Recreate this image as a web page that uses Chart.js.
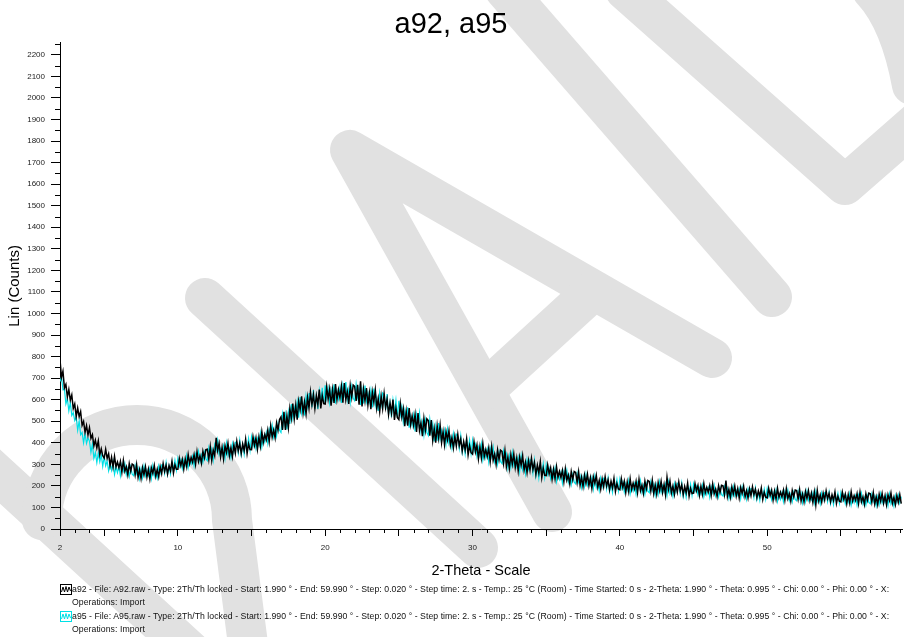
<!DOCTYPE html>
<html>
<head>
<meta charset="utf-8">
<title>a92, a95</title>
<script src="https://cdn.jsdelivr.net/npm/chart.js@4.4.1/dist/chart.umd.min.js"></script>
<style>
  html, body { margin: 0; padding: 0; background: #fff; overflow: hidden; }
  #wrap { position: relative; width: 904px; height: 637px; overflow: hidden; }
  #c { position: absolute; left: 0; top: 0; }
  .row { position: absolute; left: 72px; font: 8.7px "Liberation Sans", Arial, sans-serif; letter-spacing: 0.05px; color: #111; white-space: nowrap; line-height: 10px; }
  .icon { position: absolute; left: 60px; width: 12px; height: 11px; }
</style>
</head>
<body>
<div id="wrap">
  <canvas id="c" width="904" height="637"></canvas>
</div>
<script>
// Scan grid: readings every 0.1 degree 2-Theta starting at 2.0
const SCAN_START = 2.0;
const SCAN_STEP = 0.1;

// a92 counts (Lin), 2.0 .. 59.1 deg
const a92Counts = [
  785,704,732,655,671,613,647,598,622,559,
  580,522,561,521,545,481,499,449,480,436,
  470,421,438,386,412,376,409,344,372,340,
  329,370,328,349,295,333,288,337,288,311,
  284,314,264,318,268,289,251,303,268,301,
  296,252,299,240,275,234,284,251,289,241,
  277,232,284,258,295,245,277,242,289,257,
  304,267,296,256,294,270,314,260,298,277,
  277,327,294,323,278,325,289,345,303,332,
  310,345,300,359,313,339,305,361,330,368,
  370,323,382,318,366,340,423,364,397,335,
  378,325,386,355,398,340,377,335,390,352,
  407,363,397,350,394,364,416,351,395,369,
  368,428,388,423,370,426,384,451,402,438,
  414,458,406,478,426,459,423,492,459,508,
  520,460,544,460,524,470,559,513,582,511,
  574,507,593,554,616,538,589,535,611,561,
  636,577,623,559,619,578,647,559,619,582,
  580,659,603,648,572,646,585,672,601,646,
  609,662,586,677,600,638,580,665,612,668,
  662,594,669,577,685,569,649,594,654,575,
  631,556,636,589,645,560,605,545,615,559,
  628,563,602,532,585,538,601,506,560,517,
  508,581,520,558,477,545,479,561,485,524,
  482,531,450,538,457,492,431,513,458,511,
  503,433,506,412,465,400,479,422,481,401,
  451,391,452,414,457,389,424,376,430,385,
  439,387,418,362,405,368,418,344,387,354,
  347,406,358,390,326,381,330,396,336,368,
  336,376,313,382,319,348,300,366,323,366,
  360,305,364,290,333,282,345,301,348,285,
  329,270,333,296,340,273,309,262,317,273,
  328,277,309,254,297,261,312,238,282,249,
  248,297,256,284,231,277,233,289,240,267,
  239,272,220,279,227,250,210,267,229,267,
  262,216,265,203,240,197,250,213,254,201,
  238,189,242,212,249,194,225,185,232,196,
  243,200,228,183,221,191,235,174,211,186,
  182,233,193,222,170,218,175,233,184,213,
  186,221,169,230,178,203,165,222,186,225,
  221,176,226,165,204,161,215,179,221,170,
  207,159,240,184,222,167,199,160,207,172,
  219,177,205,160,198,169,213,152,189,164,
  166,211,177,202,156,198,161,211,168,193,
  171,201,156,208,163,185,151,201,170,203,
  200,160,225,151,184,147,195,163,199,153,
  187,144,192,165,199,150,178,144,186,154,
  196,160,184,145,177,152,190,137,170,147,
  144,189,155,180,134,176,139,189,147,171,
  149,180,134,187,141,164,129,179,149,181,
  178,139,183,130,162,126,174,142,178,133,
  166,124,171,112,179,130,158,125,166,135,
  177,141,165,126,159,133,172,119,152,129,
  126,171,137,162,117,159,122,172,130,155,
  133,164,118,171,126,149,114,164,134,167,
  164,125,169,116,149,113,161,129,165,120,
  154,112,159,133,167,119,147,113,155,124,
  160,118
];

// a95 counts (Lin), 2.0 .. 59.1 deg
const a95Counts = [
  684,707,646,650,580,605,548,586,527,540,
  503,521,458,500,437,448,400,442,397,422,
  408,356,394,328,355,308,352,312,345,291,
  337,293,316,270,303,273,312,253,287,261,
  293,247,297,269,304,252,281,244,288,254,
  247,294,257,283,234,278,238,292,246,273,
  249,283,235,293,246,271,237,292,261,298,
  298,258,308,253,291,255,308,278,319,274,
  328,291,321,281,320,295,340,285,324,302,
  337,294,348,323,361,312,344,310,357,326,
  317,376,336,371,320,390,364,411,346,372,
  346,385,329,397,342,372,331,395,358,402,
  400,353,411,346,391,347,409,372,420,365,
  428,385,420,374,419,390,444,381,427,403,
  446,398,463,436,482,427,469,432,491,458,
  448,532,482,532,462,542,487,580,515,564,
  531,589,516,612,539,582,527,616,568,628,
  629,565,645,557,617,557,641,591,655,580,
  667,607,651,586,644,603,671,581,640,603,
  657,585,668,624,682,599,647,589,660,606,
  595,671,612,654,576,646,582,666,592,633,
  593,643,564,652,573,609,548,631,577,631,
  623,553,626,532,585,519,597,540,598,517,
  595,529,568,496,549,502,565,470,524,481,
  529,453,531,484,538,452,497,436,505,448,
  434,508,447,487,406,475,410,492,417,457,
  419,458,393,462,398,426,377,442,398,440,
  431,375,433,358,401,349,411,367,413,350,
  412,361,392,337,379,343,394,320,363,330,
  370,311,374,336,380,313,349,302,357,313,
  303,362,315,347,284,339,288,354,295,327,
  291,331,268,338,275,304,256,322,279,322,
  315,260,319,245,288,237,300,256,303,240,
  297,253,280,234,271,240,283,220,257,230,
  263,213,266,236,273,217,247,207,253,217,
  209,259,218,246,193,240,197,253,204,231,
  204,238,186,245,193,217,178,235,198,236,
  232,186,236,175,213,170,223,188,229,178,
  231,189,217,172,210,181,225,164,201,176,
  210,162,215,187,224,170,202,162,210,175,
  168,219,179,208,157,204,162,219,171,200,
  173,208,156,217,166,190,152,210,173,212,
  208,163,213,152,190,148,201,166,207,156,
  209,173,197,158,190,165,203,150,183,160,
  191,148,196,169,203,154,182,149,190,159,
  153,197,164,188,143,184,148,197,155,179,
  157,187,142,194,149,171,137,186,156,188,
  185,146,190,137,169,133,180,149,184,139,
  187,151,175,136,168,143,181,128,162,138,
  169,127,174,148,181,133,160,127,169,137,
  131,176,142,167,121,163,127,176,134,159,
  136,167,121,174,129,151,117,167,136,169,
  166,127,171,118,151,114,162,131,166,121,
  169,133,157,118,151,126,164,111,145,122,
  153,111,158,132,166,118,145,112,154,123,
  117,162,128,153,108,150,114,163,121,146,
  124,155,109,162,117,140,106,155,125,158,
  121,150
];

// Axis ticks
const xMajorTicks = [2, 5, 10, 15, 20, 25, 30, 35, 40, 45, 50, 55];
const xLabelledTicks = [2, 10, 20, 30, 40, 50];
const xMinorTicks = [3, 4, 6, 7, 8, 9, 11, 12, 13, 14, 16, 17, 18, 19, 21, 22, 23, 24, 26, 27, 28, 29,
  31, 32, 33, 34, 36, 37, 38, 39, 41, 42, 43, 44, 46, 47, 48, 49, 51, 52, 53, 54, 56, 57, 58, 59];
const yMajorTicks = [0, 100, 200, 300, 400, 500, 600, 700, 800, 900, 1000, 1100,
  1200, 1300, 1400, 1500, 1600, 1700, 1800, 1900, 2000, 2100, 2200];
const yMinorTicks = [50, 150, 250, 350, 450, 550, 650, 750, 850, 950, 1050, 1150,
  1250, 1350, 1450, 1550, 1650, 1750, 1850, 1950, 2050, 2150, 2250];

// Scan description lines under the plot
const scanInfo = [
  { name: 'a92', file: 'A92.raw', color: '#000000' },
  { name: 'a95', file: 'A95.raw', color: '#00e0e6' }
];
const scanDetails = ' - Type: 2Th/Th locked - Start: 1.990 ° - End: 59.990 ° - Step: 0.020 ° - Step time: 2. s - Temp.: 25 °C (Room) - Time Started: 0 s - 2-Theta: 1.990 ° - Theta: 0.995 ° - Chi: 0.00 ° - Phi: 0.00 ° - X:';

const FONT = '"Liberation Sans", Arial, sans-serif';

function toPoints(counts) {
  return counts.map((c, i) => ({ x: +(SCAN_START + i * SCAN_STEP).toFixed(2), y: c }));
}

// Light grey lettering printed across the page background
const pageStamp = {
  id: 'pageStamp',
  beforeDraw(chart) {
    const ctx = chart.ctx;
    ctx.save();
    ctx.fillStyle = '#ffffff';
    ctx.fillRect(0, 0, chart.width, chart.height);
    ctx.strokeStyle = '#e1e1e1';
    ctx.lineWidth = 40;
    ctx.lineCap = 'round';
    ctx.lineJoin = 'round';
    const lines = [
      [[-40, 440], [200, 660]],
      [[205, 298], [478, 548]],
      [[552, 512], [350, 150], [712, 358]],
      [[485, 390], [592, 292]],
      [[505, -10], [772, 297]],
      [[625, -10], [845, 185], [925, 115]]
    ];
    for (const pts of lines) {
      ctx.beginPath();
      ctx.moveTo(pts[0][0], pts[0][1]);
      for (let i = 1; i < pts.length; i++) ctx.lineTo(pts[i][0], pts[i][1]);
      ctx.stroke();
    }
    ctx.beginPath();
    ctx.arc(137, 520, 95, Math.PI, Math.PI * 2);
    ctx.lineTo(250, 660);
    ctx.stroke();
    ctx.beginPath();
    ctx.moveTo(872, -10);
    ctx.quadraticCurveTo(900, 20, 912, 85);
    ctx.stroke();
    ctx.restore();
  }
};

// Short unlabelled tick marks between the main ones
const minorTicks = {
  id: 'minorTicks',
  afterDraw(chart) {
    const { ctx, chartArea, scales: { x, y } } = chart;
    ctx.save();
    ctx.strokeStyle = '#000';
    ctx.lineWidth = 1;
    ctx.beginPath();
    for (const v of xMinorTicks) {
      const px = Math.round(x.getPixelForValue(v)) + 0.5;
      ctx.moveTo(px, chartArea.bottom);
      ctx.lineTo(px, chartArea.bottom + 4);
    }
    for (const v of yMinorTicks) {
      const py = Math.round(y.getPixelForValue(v)) + 0.5;
      ctx.moveTo(chartArea.left - 5, py);
      ctx.lineTo(chartArea.left, py);
    }
    ctx.stroke();
    ctx.restore();
  }
};

const chart = new Chart(document.getElementById('c'), {
  type: 'line',
  data: {
    datasets: [
      { label: 'a92', data: toPoints(a92Counts), borderColor: scanInfo[0].color, borderWidth: 1.5, pointRadius: 0, tension: 0 },
      { label: 'a95', data: toPoints(a95Counts), borderColor: scanInfo[1].color, borderWidth: 1.2, pointRadius: 0, tension: 0 }
    ]
  },
  options: {
    responsive: false,
    animation: false,
    devicePixelRatio: 1,
    events: [],
    layout: { padding: { left: 0, right: 2, top: 0, bottom: 0 } },
    plugins: {
      legend: { display: false },
      tooltip: { enabled: false },
      title: {
        display: true,
        text: 'a92, a95',
        color: '#000',
        font: { family: FONT, size: 29, weight: 'normal' },
        padding: { top: 8, bottom: 0 }
      }
    },
    scales: {
      x: {
        type: 'linear',
        min: 2,
        max: 59.15,
        afterBuildTicks: (s) => { s.ticks = xMajorTicks.map(v => ({ value: v })); },
        afterFit: (s) => { s.height = 108; },
        ticks: {
          autoSkip: false,
          maxRotation: 0,
          padding: 7,
          color: '#222',
          font: { family: FONT, size: 8 },
          callback: (v) => xLabelledTicks.includes(v) ? String(v) : ''
        },
        grid: { drawOnChartArea: false, drawTicks: true, tickLength: 7, color: '#000', lineWidth: 1 },
        border: { display: true, color: '#000', width: 1 },
        title: {
          display: true,
          text: '2-Theta - Scale',
          color: '#000',
          font: { family: FONT, size: 14.5, weight: 'normal' },
          padding: { top: 0, bottom: 57 }
        }
      },
      y: {
        type: 'linear',
        min: 0,
        max: 2256,
        afterBuildTicks: (s) => { s.ticks = yMajorTicks.map(v => ({ value: v })); },
        afterFit: (s) => { s.width = 60; },
        ticks: {
          autoSkip: false,
          padding: 6,
          color: '#222',
          font: { family: FONT, size: 8 },
          callback: (v) => String(v)
        },
        grid: { drawOnChartArea: false, drawTicks: true, tickLength: 9, color: '#000', lineWidth: 1 },
        border: { display: true, color: '#000', width: 1 },
        title: {
          display: true,
          text: 'Lin (Counts)',
          color: '#000',
          font: { family: FONT, size: 15, weight: 'normal' },
          padding: { top: 6, bottom: 0 }
        }
      }
    }
  },
  plugins: [pageStamp, minorTicks]
});

// Scan description block with small pattern icons
const wrap = document.getElementById('wrap');
const rowTops = [584, 597, 611, 624];
scanInfo.forEach((s, i) => {
  const top = rowTops[i * 2];
  const icon = document.createElementNS('http://www.w3.org/2000/svg', 'svg');
  icon.setAttribute('class', 'icon');
  icon.setAttribute('viewBox', '0 0 12 11');
  icon.style.top = top + 'px';
  icon.innerHTML = '<rect x="0.5" y="0.5" width="11" height="10" fill="#fff" stroke="' + s.color + '"/>' +
    '<polyline points="1.5,8 3,3 4.5,8 6,2.5 7.5,8 9,3 10.5,7" fill="none" stroke="' + s.color + '" stroke-width="1"/>';
  wrap.appendChild(icon);
  const line = document.createElement('div');
  line.className = 'row';
  line.style.top = top + 'px';
  line.textContent = s.name + ' - File: ' + s.file + scanDetails;
  wrap.appendChild(line);
  const ops = document.createElement('div');
  ops.className = 'row';
  ops.style.top = rowTops[i * 2 + 1] + 'px';
  ops.textContent = 'Operations: Import';
  wrap.appendChild(ops);
});
</script>
</body>
</html>
